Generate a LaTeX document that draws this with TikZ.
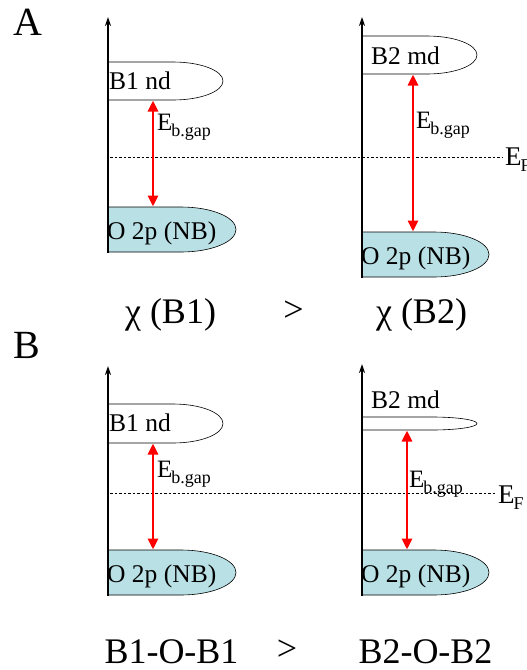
\documentclass[tikz,border=0pt]{standalone}
\usepackage{fontspec}
\setmainfont{Liberation Serif}
\usetikzlibrary{arrows.meta}
\definecolor{bandblue}{RGB}{185,224,229}
\newcommand{\fsz}[1]{\fontsize{#1}{#1}\selectfont}
\newcommand{\Egap}{\fsz{25}E\kern-1pt\raisebox{-6pt}{\fsz{18}b.gap}}
\newcommand{\EF}{\fsz{27}E\kern-1pt\raisebox{-6pt}{\fsz{18}F}}
\begin{document}
\begin{tikzpicture}[x=1pt,y=-1pt,
  axisline/.style={line width=1.8pt,-{Stealth[length=9pt,width=6pt]}},
  bandline/.style={draw=black,line width=0.6pt},
  oband/.style={bandline,fill=bandblue},
  gaparrow/.style={red,line width=2.8pt,{Triangle[length=11pt,width=10pt]}-{Triangle[length=11pt,width=10pt]},shorten <=0.5pt,shorten >=0.5pt},
  fermi/.style={line width=0.6pt,dash pattern=on 2.5pt off 2pt},
  lbl/.style={inner sep=0pt,anchor=base west,font=\fsz{25.5}},
  big/.style={inner sep=0pt,anchor=base,font=\fsz{36}},
  panel/.style={inner sep=0pt,anchor=base west,font=\fsz{40}},
  txt/.style={inner sep=0pt,anchor=base west}]
\useasboundingbox (0,0) rectangle (527,670);

% ---------- Panel A ----------
\node[panel] (pA) at (13,35) {A};
\coordinate (fA1) at (110,157);
\coordinate (fA2) at (502,157);
\draw[fermi] (fA1) -- (fA2);
\node[txt] (EFA) at (505,165) {\EF};

% left diagram
\draw[bandline,fill=white] (108,62) -- (173,62) arc[start angle=90,end angle=-90,x radius=50pt,y radius=19pt] -- (108,100);
\draw[oband] (108,207) -- (181,207) arc[start angle=90,end angle=-90,x radius=55pt,y radius=22.5pt] -- (108,252);
\node[lbl] (b1ndA) at (109,89) {B1 nd};
\node[lbl] (o2pA1) at (107,239) {O 2p (NB)};
\coordinate (gA1t) at (153,100);
\coordinate (gA1b) at (153,207);
\draw[gaparrow] (gA1t) -- (gA1b);
\node[txt] (egA1) at (157,130) {\Egap};
\coordinate (axA1b) at (108,253);
\coordinate (axA1t) at (108,17);
\draw[axisline] (axA1b) -- (axA1t);

% right diagram
\draw[bandline,fill=white] (362,36) -- (427,36) arc[start angle=90,end angle=-90,x radius=50pt,y radius=19pt] -- (362,74);
\draw[oband] (362,232) -- (434,232) arc[start angle=90,end angle=-90,x radius=55pt,y radius=22.5pt] -- (362,277);
\node[lbl] (b2mdA) at (371,64) {B2 md};
\node[lbl] (o2pA2) at (361,264) {O 2p (NB)};
\coordinate (gA2t) at (413,74);
\coordinate (gA2b) at (413,232);
\draw[gaparrow] (gA2t) -- (gA2b);
\node[txt] (egA2) at (416,128) {\Egap};
\coordinate (axA2b) at (362,278);
\coordinate (axA2t) at (362,17);
\draw[axisline] (axA2b) -- (axA2t);

\node[big] (chi1) at (170.5,323) {χ (B1)};
\node[big] (gtA) at (293.5,321) {>};
\node[big] (chi2) at (421.5,323) {χ (B2)};

% ---------- Panel B ----------
\node[panel] (pB) at (13,358) {B};
\coordinate (fB1) at (110,493);
\coordinate (fB2) at (495,493);
\draw[fermi] (fB1) -- (fB2);
\node[txt] (EFB) at (498,503) {\EF};

% left diagram
\draw[bandline,fill=white] (108,404) -- (173,404) arc[start angle=90,end angle=-90,x radius=50pt,y radius=19.5pt] -- (108,443);
\draw[oband] (108,550) -- (181,550) arc[start angle=90,end angle=-90,x radius=55pt,y radius=22.5pt] -- (108,595);
\node[lbl] (b1ndB) at (109,431) {B1 nd};
\node[lbl] (o2pB1) at (107,582) {O 2p (NB)};
\coordinate (gB1t) at (153,443);
\coordinate (gB1b) at (153,550);
\draw[gaparrow] (gB1t) -- (gB1b);
\node[txt] (egB1) at (157,477) {\Egap};
\coordinate (axB1b) at (108,596);
\coordinate (axB1t) at (108,366);
\draw[axisline] (axB1b) -- (axB1t);

% right diagram
\draw[bandline,fill=white] (362,417) -- (432,417) arc[start angle=90,end angle=-90,x radius=45pt,y radius=6.5pt] -- (362,430);
\draw[oband] (362,550) -- (434,550) arc[start angle=90,end angle=-90,x radius=55pt,y radius=22.5pt] -- (362,595);
\node[lbl] (b2mdB) at (371,408) {B2 md};
\node[lbl] (o2pB2) at (361,582) {O 2p (NB)};
\coordinate (gB2t) at (407,430);
\coordinate (gB2b) at (407,550);
\draw[gaparrow] (gB2t) -- (gB2b);
\node[txt] (egB2) at (409,487) {\Egap};
\coordinate (axB2b) at (362,596);
\coordinate (axB2t) at (362,364);
\draw[axisline] (axB2b) -- (axB2t);

\node[big] (bob1) at (171.5,663) {B1-O-B1};
\node[big] (gtB) at (287,660) {>};
\node[big] (bob2) at (425.5,663) {B2-O-B2};
\end{tikzpicture}
\end{document}
